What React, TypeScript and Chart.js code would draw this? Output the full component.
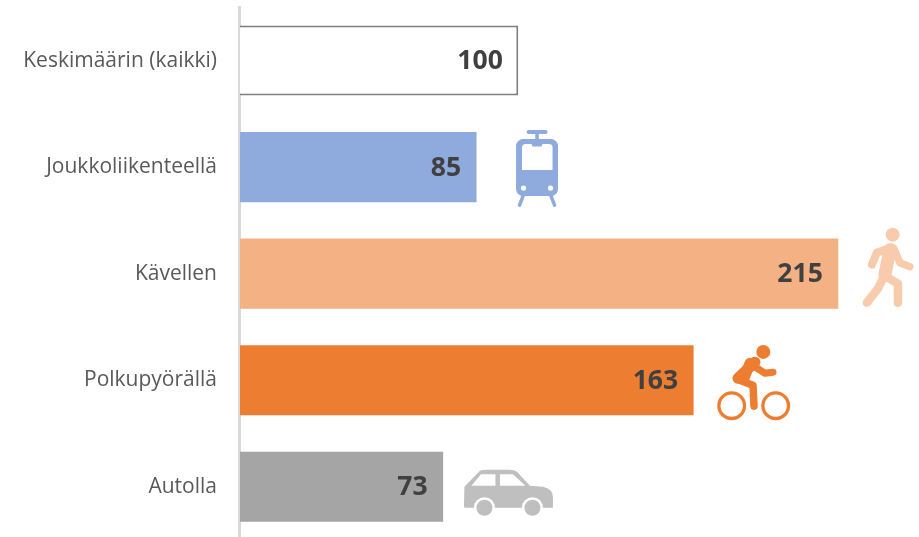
import React, { useEffect, useRef } from "react";
import { Chart, registerables } from "chart.js";

Chart.register(...registerables);

const categories = ["Keskimäärin (kaikki)", "Joukkoliikenteellä", "Kävellen", "Polkupyörällä", "Autolla"];
const values = [100, 85, 215, 163, 73];
const fillColors = ["#ffffff", "#8faadc", "#f4b183", "#ed7d31", "#a5a5a5"];
const borderColors = ["#7f7f7f", "#8faadc", "#f4b183", "#ed7d31", "#a5a5a5"];
const borderWidths = [2, 0, 0, 0, 0];
const iconKinds = ["", "train", "walker", "bike", "car"];

type Ctx = CanvasRenderingContext2D;

function limb(ctx: Ctx, pts: number[][], w: number) {
  ctx.lineWidth = w;
  ctx.lineCap = "round";
  ctx.lineJoin = "round";
  ctx.beginPath();
  pts.forEach((p, i) => (i ? ctx.lineTo(p[0], p[1]) : ctx.moveTo(p[0], p[1])));
  ctx.stroke();
}
function poly(ctx: Ctx, pts: number[][], color: string) {
  ctx.fillStyle = color;
  ctx.beginPath();
  pts.forEach((p, i) => (i ? ctx.lineTo(p[0], p[1]) : ctx.moveTo(p[0], p[1])));
  ctx.closePath();
  ctx.fill();
}
function disc(ctx: Ctx, x: number, y: number, r: number, color: string) {
  ctx.fillStyle = color;
  ctx.beginPath();
  ctx.arc(x, y, r, 0, Math.PI * 2);
  ctx.fill();
}

// Each pictogram is drawn around the end of its bar: (0,0) is the bar end at mid-height.
function drawTrain(ctx: Ctx) {
  const c = "#8faadc";
  ctx.save();
  ctx.translate(-1, 0);
  ctx.strokeStyle = c;
  limb(ctx, [[53, -35], [70, -35]], 4);
  limb(ctx, [[61.5, -35], [61.5, -25]], 3.5);
  ctx.fillStyle = c;
  ctx.beginPath();
  ctx.roundRect(40.5, -28, 42, 57, 7);
  ctx.fill();
  ctx.fillStyle = "#ffffff";
  ctx.beginPath();
  ctx.moveTo(46.5, -20);
  ctx.quadraticCurveTo(47, -23, 50, -23);
  ctx.lineTo(56, -23);
  ctx.lineTo(57, -20.5);
  ctx.lineTo(66, -20.5);
  ctx.lineTo(67, -23);
  ctx.lineTo(73, -23);
  ctx.quadraticCurveTo(77, -23, 77, -20);
  ctx.lineTo(77, 3);
  ctx.lineTo(46.5, 3);
  ctx.closePath();
  ctx.fill();
  disc(ctx, 48, 21, 2.6, "#ffffff");
  disc(ctx, 75, 21, 2.6, "#ffffff");
  ctx.strokeStyle = c;
  limb(ctx, [[47.5, 29], [44, 38]], 3.5);
  limb(ctx, [[75.5, 29], [79, 38]], 3.5);
  ctx.restore();
}
function drawWalker(ctx: Ctx) {
  const c = "#f8cbad";
  ctx.strokeStyle = c;
  ctx.save();
  ctx.translate(-838.4, -273);
  disc(ctx, 892.7, 234, 7, c);
  limb(ctx, [[892, 247], [877, 252], [872, 264]], 8);
  limb(ctx, [[894, 248], [900, 262], [910, 266]], 7.5);
  limb(ctx, [[890, 249], [885, 274]], 13);
  limb(ctx, [[884, 276], [878, 288], [867, 302]], 8.5);
  limb(ctx, [[886, 276], [898, 283], [898, 302]], 8.5);
  ctx.restore();
}
function drawBike(ctx: Ctx) {
  const c = "#ed7d31";
  ctx.strokeStyle = c;
  ctx.save();
  ctx.translate(-693.6, -380);
  disc(ctx, 763.3, 351.7, 7, c);
  limb(ctx, [[755, 362], [738, 378]], 11);
  limb(ctx, [[754, 366], [765, 373], [773, 372]], 7);
  limb(ctx, [[737, 379], [753, 385], [754, 406]], 7.5);
  limb(ctx, [[750, 363], [744, 378]], 11);
  ctx.lineWidth = 3.3;
  ctx.beginPath();
  ctx.arc(731.7, 405.5, 12.8, 0, Math.PI * 2);
  ctx.stroke();
  ctx.beginPath();
  ctx.arc(775.7, 405.5, 12.8, 0, Math.PI * 2);
  ctx.stroke();
  ctx.restore();
}
function drawCar(ctx: Ctx) {
  const c = "#bfbfbf";
  ctx.save();
  ctx.translate(-443.2, -486);
  ctx.fillStyle = c;
  ctx.beginPath();
  ctx.moveTo(464.5, 486);
  ctx.lineTo(480, 470);
  ctx.quadraticCurveTo(482, 469, 486, 469);
  ctx.lineTo(510, 469);
  ctx.quadraticCurveTo(514, 469, 517, 471);
  ctx.lineTo(530, 485);
  ctx.lineTo(543, 486);
  ctx.quadraticCurveTo(553, 488, 553, 497);
  ctx.lineTo(553, 507);
  ctx.lineTo(465, 507);
  ctx.quadraticCurveTo(464, 507, 464, 505);
  ctx.closePath();
  ctx.fill();
  poly(ctx, [[471.5, 485], [481, 473.5], [495.5, 473.5], [495.5, 485]], "#ffffff");
  poly(ctx, [[500, 485], [500, 473.5], [513, 473.5], [525.5, 485]], "#ffffff");
  disc(ctx, 484.5, 507, 10.5, "#ffffff");
  disc(ctx, 532.5, 507, 10.5, "#ffffff");
  disc(ctx, 484.5, 507, 8, c);
  disc(ctx, 532.5, 507, 8, c);
  ctx.restore();
}
const iconDrawers: Record<string, (ctx: Ctx) => void> = {
  train: drawTrain,
  walker: drawWalker,
  bike: drawBike,
  car: drawCar,
};

const decorations = {
  id: "decorations",
  afterDatasetsDraw(chart: any) {
    const ctx: Ctx = chart.ctx;
    const bars = chart.getDatasetMeta(0).data;
    bars.forEach((bar: any, i: number) => {
      ctx.save();
      ctx.font = "700 26.5px 'Open Sans'";
      ctx.fillStyle = "#404040";
      ctx.textAlign = "right";
      ctx.textBaseline = "middle";
      ctx.fillText(String(values[i]), bar.x - 15.5, bar.y + 1);
      ctx.restore();
      const draw = iconDrawers[iconKinds[i]];
      if (draw) {
        ctx.save();
        ctx.translate(bar.x, bar.y);
        draw(ctx);
        ctx.restore();
      }
    });
  },
};

export default function App() {
  const ref = useRef<HTMLCanvasElement>(null);
  useEffect(() => {
    const chart = new Chart(ref.current!, {
      type: "bar",
      data: {
        labels: categories,
        datasets: [
          {
            data: values,
            backgroundColor: fillColors,
            borderColor: borderColors,
            borderWidth: borderWidths,
            categoryPercentage: 1,
            barPercentage: 0.658,
          },
        ],
      },
      options: {
        indexAxis: "y",
        animation: false,
        responsive: false,
        layout: { padding: { top: 7.3, bottom: 0, left: 0, right: 0 } },
        plugins: { legend: { display: false }, tooltip: { enabled: false } },
        scales: {
          x: { display: false, min: -0.36, max: 244 },
          y: {
            afterFit(scale: any) {
              scale.width = 239;
              scale.paddingTop = 0;
              scale.paddingBottom = 0;
            },
            grid: { display: false, drawTicks: false },
            border: { display: true, color: "#d9d9d9", width: 3 },
            ticks: {
              padding: 22,
              color: "#595959",
              font: { family: "'Open Sans'", size: 21 },
              autoSkip: false,
            },
          },
        },
      },
      plugins: [decorations],
    } as any);
    return () => chart.destroy();
  }, []);
  return (
    <div style={{ position: "absolute", left: 0, top: 0, width: 919, height: 537, overflow: "hidden", background: "#fff" }}>
      <canvas ref={ref} width={919} height={540} style={{ display: "block" }} />
    </div>
  );
}
